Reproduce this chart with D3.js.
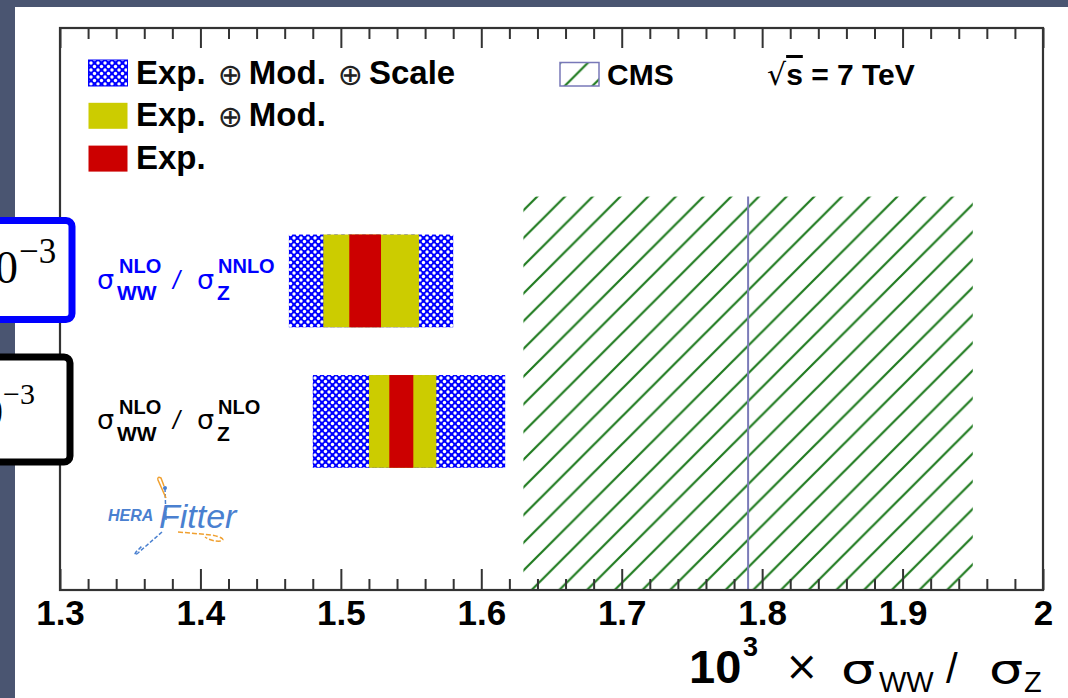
<!DOCTYPE html>
<html><head><meta charset="utf-8">
<script src="https://cdn.jsdelivr.net/npm/d3@7"></script>
<style>html,body{margin:0;padding:0;background:#4a5571;overflow:hidden}</style>
</head><body>
<svg id="c" width="1068" height="698"></svg>
<script>
// ---- data ----
const rowNum = ["NLO", "NLO"];
const rowDen = ["NNLO", "NLO"];
const rowColor = ["#0000ff", "#000000"];
const rowY = [2.2, 1.2];
const scaleLo = [1.463, 1.480];
const scaleHi = [1.580, 1.617];
const modLo = [1.4875, 1.520];
const modHi = [1.5556, 1.568];
const expLo = [1.506, 1.5345];
const expHi = [1.5286, 1.5516];
const cmsVal = [1.79];
const cmsLo = [1.63];
const cmsHi = [1.95];
const cmsTop = [2.8];
const xTickValues = [1.3, 1.4, 1.5, 1.6, 1.7, 1.8, 1.9, 2.0];
const xTickLabels = ["1.3", "1.4", "1.5", "1.6", "1.7", "1.8", "1.9", "2"];
const legendFills = ["url(#blueDots)", "#cccc00", "#cc0000"];
const legendParts = [["Exp.", "Mod.", "Scale"], ["Exp.", "Mod."], ["Exp."]];

// ---- layout ----
const W = 1068, H = 698;
const plot = {l: 60, r: 1043, t: 28, b: 590};
const x = d3.scaleLinear().domain([1.3, 2.0]).range([plot.l, plot.r]);
const y = d3.scaleLinear().domain([0, 4]).range([plot.b, plot.t]);
const halfH = 0.33;
const sans = "'Liberation Sans', Arial, Helvetica, sans-serif";
const serif = "'Liberation Serif', 'DejaVu Serif', serif";
const greek = "'DejaVu Sans', sans-serif";
const frameColor = "#333";

const svg = d3.select("#c");
const defs = svg.append("defs");
// blue dotted pattern
const pb = defs.append("pattern").attr("id", "blueDots").attr("patternUnits", "userSpaceOnUse")
  .attr("width", 7).attr("height", 7);
pb.append("rect").attr("width", 7).attr("height", 7).attr("fill", "#0000ff");
[[0,0],[7,0],[0,7],[7,7],[3.5,3.5]].forEach(p => pb.append("circle").attr("cx", p[0]).attr("cy", p[1]).attr("r", 1.7).attr("fill", "#fff"));
// hatch pattern
const P = 27.7;
const ph = defs.append("pattern").attr("id", "hatch").attr("patternUnits", "userSpaceOnUse")
  .attr("width", P).attr("height", P).attr("x", 13.6);
ph.append("path").attr("d", `M-2,${P+2} L${P+2},-2 M-2,2 L2,-2 M${P-2},${P+2} L${P+2},${P-2}`)
  .attr("stroke", "#1f7a1f").attr("stroke-width", 2.2).attr("fill", "none");

// slide background + white panel
svg.append("rect").attr("width", W).attr("height", H).attr("fill", "#4a5571");
svg.append("rect").attr("x", 15).attr("y", 7).attr("width", W - 15).attr("height", H - 7).attr("fill", "#fff");

// CMS band
const g = svg.append("g");
cmsVal.forEach((v, i) => {
  g.append("rect").attr("x", x(cmsLo[i])).attr("y", y(cmsTop[i]))
    .attr("width", x(cmsHi[i]) - x(cmsLo[i])).attr("height", y(0) - y(cmsTop[i]))
    .attr("fill", "url(#hatch)");
  g.append("line").attr("x1", x(v)).attr("x2", x(v)).attr("y1", y(cmsTop[i])).attr("y2", y(0))
    .attr("stroke", "#7b7bb8").attr("stroke-width", 2);
});

// bars
const bands = [[scaleLo, scaleHi, "url(#blueDots)"], [modLo, modHi, "#cccc00"], [expLo, expHi, "#cc0000"]];
bands.forEach(([lo, hi, fill]) => {
  g.selectAll(null).data(rowY).enter().append("rect")
    .attr("x", (d, i) => x(lo[i])).attr("width", (d, i) => x(hi[i]) - x(lo[i]))
    .attr("y", d => y(d + halfH)).attr("height", d => y(d - halfH) - y(d + halfH))
    .attr("fill", fill);
});

// row labels
rowY.forEach((ry, i) => {
  const cy = y(ry);
  const col = rowColor[i];
  const t = svg.append("g").attr("fill", col);
  t.append("text").attr("x", 97).attr("y", cy + 8).attr("font-family", greek).attr("font-size", 27).text("σ");
  t.append("text").attr("x", 119).attr("y", cy - 7.5).attr("font-family", sans).attr("font-weight", "bold").attr("font-size", 20).text(rowNum[i]);
  t.append("text").attr("x", 117).attr("y", cy + 19.5).attr("font-family", sans).attr("font-weight", "bold").attr("font-size", 21).text("WW");
  t.append("text").attr("x", 173).attr("y", cy + 8).attr("font-family", sans).attr("font-style", "italic").attr("font-size", 25).text("/");
  t.append("text").attr("x", 197).attr("y", cy + 8).attr("font-family", greek).attr("font-size", 27).text("σ");
  t.append("text").attr("x", 218).attr("y", cy - 7.5).attr("font-family", sans).attr("font-weight", "bold").attr("font-size", 20).text(rowDen[i]);
  t.append("text").attr("x", 217).attr("y", cy + 19.5).attr("font-family", sans).attr("font-weight", "bold").attr("font-size", 21).text("Z");
});

// axes
const minor = d3.range(0, 36).map(k => +(1.3 + k * 0.02).toFixed(2)).filter(v => !xTickValues.some(t => Math.abs(t - v) < 1e-6));
function styleAxis(sel) {
  sel.select(".domain").remove();
  sel.selectAll(".tick line").attr("stroke", frameColor).attr("stroke-width", 2);
}
const fmt = d => xTickLabels[xTickValues.findIndex(t => Math.abs(t - d) < 1e-6)];
svg.append("g").attr("transform", `translate(0,${plot.b})`)
  .call(d3.axisBottom(x).tickValues(xTickValues).tickSize(-21).tickPadding(10).tickFormat(fmt))
  .call(styleAxis)
  .call(s => s.selectAll(".tick text").attr("font-family", sans).attr("font-weight", "bold").attr("font-size", 35).attr("fill", "#000"));
svg.append("g").attr("transform", `translate(0,${plot.b})`)
  .call(d3.axisBottom(x).tickValues(minor).tickSize(-11).tickFormat(""))
  .call(styleAxis);
svg.append("g").attr("transform", `translate(0,${plot.t})`)
  .call(d3.axisTop(x).tickValues(xTickValues).tickSize(-20).tickFormat(""))
  .call(styleAxis);
svg.append("g").attr("transform", `translate(0,${plot.t})`)
  .call(d3.axisTop(x).tickValues(minor).tickSize(-11).tickFormat(""))
  .call(styleAxis);
// frame
svg.append("rect").attr("x", plot.l).attr("y", plot.t).attr("width", plot.r - plot.l).attr("height", plot.b - plot.t)
  .attr("fill", "none").attr("stroke", frameColor).attr("stroke-width", 2.2);

// legend
const lg = svg.append("g");
legendParts.forEach((parts, i) => {
  const ly = 60 + i * 42.8;
  lg.append("rect").attr("x", 88.5).attr("y", ly).attr("width", 39).attr("height", 26)
    .attr("fill", legendFills[i]).attr("stroke", i === 0 ? "#0000ff" : "none").attr("stroke-width", 1);
  const tx = lg.append("text").attr("x", 136).attr("y", ly + 23.5).attr("font-family", sans).attr("font-size", 33).attr("fill", "#000");
  parts.forEach((p, k) => {
    if (k > 0) {
      tx.append("tspan").attr("dx", 12).attr("dy", 1).attr("font-family", greek).attr("font-size", 30).attr("font-weight", "normal").attr("fill", "#222").text("⊕");
      tx.append("tspan").attr("dx", 6).attr("dy", -1).attr("font-weight", "bold").text(p);
    } else {
      tx.append("tspan").attr("font-weight", "bold").text(p);
    }
  });
});
lg.append("rect").attr("x", 560).attr("y", 62.5).attr("width", 39).attr("height", 23.5)
  .attr("fill", "url(#hatch)").attr("stroke", "#7878b8").attr("stroke-width", 1.5);
lg.append("text").attr("x", 607).attr("y", 85).attr("font-family", sans).attr("font-weight", "bold").attr("font-size", 30).text("CMS");
const st = lg.append("text").attr("x", 767).attr("y", 85).attr("font-family", sans).attr("font-weight", "bold").attr("font-size", 30);
st.append("tspan").attr("font-weight", "normal").attr("font-family", greek).attr("font-size", 30).text("√");
st.append("tspan").attr("text-decoration", "overline").text("s");
st.append("tspan").text(" = 7 TeV");

// x axis title
const at = svg.append("g").attr("fill", "#000");
at.append("text").attr("x", 689).attr("y", 683).attr("font-family", sans).attr("font-weight", "bold").attr("font-size", 47).text("10");
at.append("text").attr("x", 743).attr("y", 656).attr("font-family", sans).attr("font-weight", "bold").attr("font-size", 27).text("3");
at.append("text").attr("x", 785).attr("y", 680).attr("font-family", greek).attr("font-size", 40).text("×");
at.append("text").attr("transform", "translate(841,683) scale(1.35,1)").attr("font-family", greek).attr("font-size", 40).text("σ");
at.append("text").attr("x", 879).attr("y", 692).attr("font-family", sans).attr("font-size", 29).text("WW");
at.append("text").attr("x", 946).attr("y", 683).attr("font-family", sans).attr("font-size", 42).text("/");
at.append("text").attr("transform", "translate(989,683) scale(1.35,1)").attr("font-family", greek).attr("font-size", 40).text("σ");
at.append("text").attr("x", 1024).attr("y", 692).attr("font-family", sans).attr("font-size", 29).text("Z");

// HERAFitter logo
const logo = svg.append("g");
logo.append("path").attr("d", "M165,488 L166,520").attr("stroke", "#4a80d0").attr("stroke-width", 1.5).attr("stroke-dasharray", "4,2").attr("fill", "none");
logo.append("circle").attr("cx", 165).attr("cy", 488).attr("r", 2).attr("fill", "#4a80d0");
logo.append("path").attr("d", "M166,498 L158,480 Q157,476 161,478 L164,486").attr("stroke", "#f0a030").attr("stroke-width", 1.5).attr("fill", "none");
logo.append("path").attr("d", "M162,532 L138,553 Q133,557 136,552 L142,546").attr("stroke", "#4a80d0").attr("stroke-width", 1.5).attr("stroke-dasharray", "4,2").attr("fill", "none");
logo.append("path").attr("d", "M178,532 L212,535 Q226,538 222,541 Q212,542 205,537").attr("stroke", "#f0a030").attr("stroke-width", 1.5).attr("stroke-dasharray", "5,2").attr("fill", "none");
logo.append("text").attr("x", 108).attr("y", 521).attr("font-family", sans).attr("font-style", "italic").attr("font-weight", "bold").attr("font-size", 16).attr("fill", "#4a80d0").text("HERA");
logo.append("text").attr("x", 159).attr("y", 528).attr("font-family", sans).attr("font-style", "italic").attr("font-size", 34).attr("fill", "#4a80d0").text("Fitter");

// overlay boxes (cut equation fragments)
const ov = svg.append("g");
ov.append("rect").attr("x", -30).attr("y", 220.5).attr("width", 102).attr("height", 99).attr("rx", 6)
  .attr("fill", "#fff").attr("stroke", "#0000ff").attr("stroke-width", 7);
ov.append("text").attr("x", 18).attr("y", 283).attr("text-anchor", "end").attr("font-family", serif).attr("font-size", 46).text("×10");
ov.append("text").attr("x", 19).attr("y", 263).attr("font-family", serif).attr("font-size", 35).text("−3");
ov.append("rect").attr("x", -30).attr("y", 357).attr("width", 100).attr("height", 105).attr("rx", 6)
  .attr("fill", "#fff").attr("stroke", "#000").attr("stroke-width", 7);
ov.append("text").attr("x", 3).attr("y", 426).attr("text-anchor", "end").attr("font-family", serif).attr("font-size", 42).text("×10");
ov.append("text").attr("x", 3).attr("y", 404).attr("font-family", serif).attr("font-size", 30).text("−3");
</script>
</body></html>
